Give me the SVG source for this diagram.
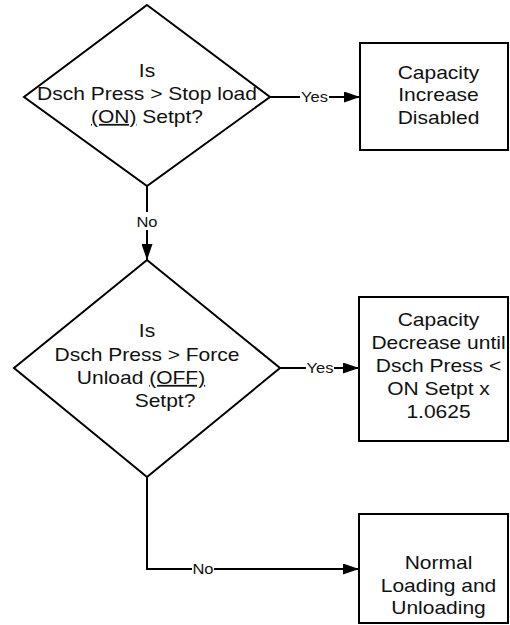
<svg xmlns="http://www.w3.org/2000/svg" width="510" height="625" viewBox="0 0 510 625">
<defs>
<style>
.shape{fill:#fff;stroke:#000;stroke-width:2}
.conn{fill:none;stroke:#000;stroke-width:2}
.t{font-family:"Liberation Sans",Arial,sans-serif;font-size:17.5px;fill:#111;text-anchor:middle}
.lbl{font-family:"Liberation Sans",Arial,sans-serif;font-size:15px;fill:#111;text-anchor:middle}
.u{text-decoration:underline}
</style>
<marker id="arr" viewBox="0 0 16 11" refX="16" refY="5.5" markerWidth="16" markerHeight="11" markerUnits="userSpaceOnUse" orient="auto">
<path d="M0,0 L16,5.5 L0,11 Z" fill="#000"/>
</marker>
</defs>
<rect width="510" height="625" fill="#fff"/>
<g id="connectors">
<path class="conn" d="M270,97 H360" marker-end="url(#arr)"/>
<path class="conn" d="M147,186 V260" marker-end="url(#arr)"/>
<path class="conn" d="M280,368 H359" marker-end="url(#arr)"/>
<path class="conn" d="M147,477 V569 H359" marker-end="url(#arr)"/>
<rect x="300" y="88" width="29" height="17" fill="#fff"/>
<text class="lbl" transform="matrix(1.1 0 0 1 314.5 0)" x="0" y="102">Yes</text>
<rect x="137" y="212" width="20" height="18" fill="#fff"/>
<text class="lbl" transform="matrix(1.1 0 0 1 147 0)" x="0" y="227">No</text>
<rect x="306" y="359" width="28" height="17" fill="#fff"/>
<text class="lbl" transform="matrix(1.1 0 0 1 320 0)" x="0" y="373">Yes</text>
<rect x="192" y="561" width="22" height="16" fill="#fff"/>
<text class="lbl" transform="matrix(1.1 0 0 1 203 0)" x="0" y="574">No</text>
</g>
<g id="decision1">
<polygon class="shape" points="147,5 270,97 147,186 24,97"/>
<g transform="matrix(1.2 0 0 1 147 0)">
<text class="t" x="0" y="77">Is</text>
<text class="t" x="0" y="100">Dsch Press &gt; Stop load</text>
<text class="t" x="0" y="123"><tspan class="u">(ON)</tspan> Setpt?</text>
</g>
</g>
<g id="box1">
<rect class="shape" x="360" y="43" width="148" height="107"/>
<g transform="matrix(1.2 0 0 1 438.5 0)">
<text class="t" x="0" y="79">Capacity</text>
<text class="t" x="0" y="101.5">Increase</text>
<text class="t" x="0" y="124">Disabled</text>
</g>
</g>
<g id="decision2">
<polygon class="shape" points="147,260 280,368 147,477 14,368"/>
<g transform="matrix(1.2 0 0 1 147 0)">
<text class="t" x="0" y="337">Is</text>
<text class="t" x="0" y="361">Dsch Press &gt; Force</text>
<text class="t" x="-5" y="384">Unload <tspan class="u">(OFF)</tspan></text>
<text class="t" x="15" y="407">Setpt?</text>
</g>
</g>
<g id="box2">
<rect class="shape" x="359" y="297" width="149" height="144"/>
<g transform="matrix(1.2 0 0 1 438.5 0)">
<text class="t" x="0" y="326">Capacity</text>
<text class="t" x="0" y="349">Decrease until</text>
<text class="t" x="0" y="372">Dsch Press &lt;</text>
<text class="t" x="0" y="395">ON Setpt x</text>
<text class="t" x="0" y="418">1.0625</text>
</g>
</g>
<g id="box3">
<rect class="shape" x="359" y="514" width="149" height="109"/>
<g transform="matrix(1.2 0 0 1 438.5 0)">
<text class="t" x="0" y="569">Normal</text>
<text class="t" x="0" y="592">Loading and</text>
<text class="t" x="0" y="614">Unloading</text>
</g>
</g>
</svg>
